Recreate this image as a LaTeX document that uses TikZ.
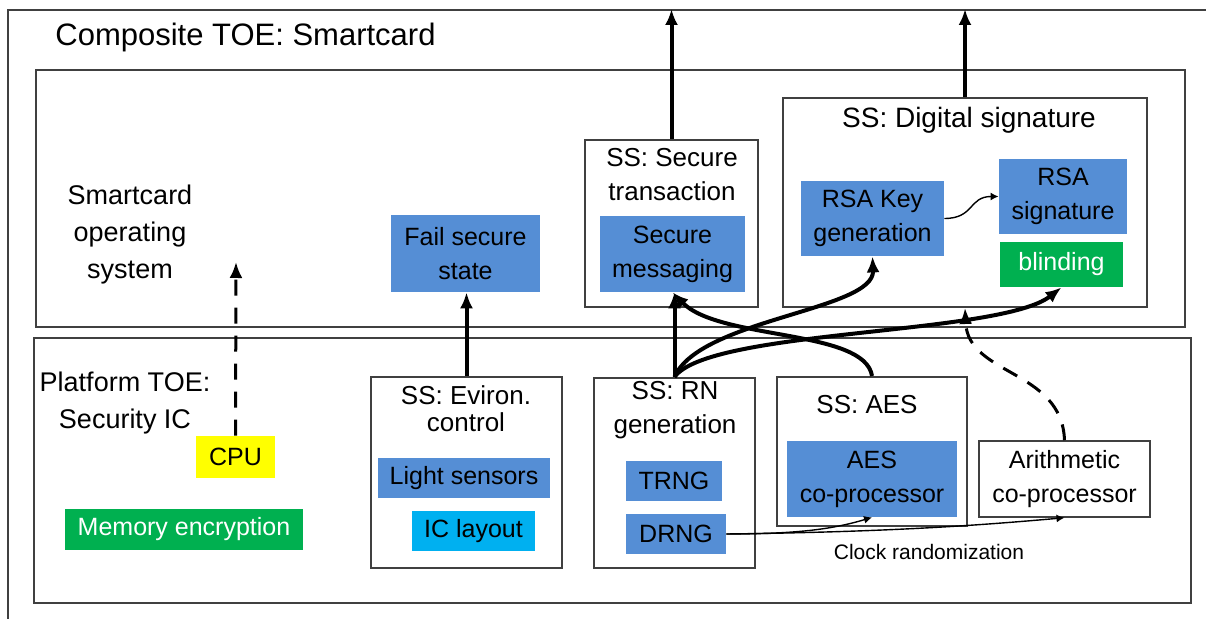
\documentclass[tikz,border=0pt]{standalone}
\usepackage{fontspec}
\setmainfont{Liberation Sans}
\usetikzlibrary{arrows.meta}
\definecolor{partblue}{RGB}{85,142,213}
\definecolor{partgreen}{RGB}{0,176,80}
\definecolor{partcyan}{RGB}{0,176,240}
\definecolor{partyellow}{RGB}{255,255,0}
\definecolor{linegray}{RGB}{64,64,64}
\newcommand{\partfont}{\fontsize{12.5}{17}\selectfont}
\newcommand{\headfont}{\fontsize{13.5}{18.5}\selectfont}
\begin{document}
\begin{tikzpicture}[x=0.5pt,y=-0.5pt,>={Latex[length=8pt,width=6.5pt]},
        ssbox/.style={draw=linegray,line width=1pt,inner sep=0pt},
        sstitle/.style={inner sep=0pt,align=center,font=\fontsize{13}{17}\selectfont},
        freetext/.style={inner sep=0pt,align=center,font=\headfont},
        bluepart/.style={fill=partblue,inner sep=0pt,align=center,font=\partfont},
        greenpart/.style={fill=partgreen,text=white,inner sep=0pt,align=center,font=\partfont},
        bigarrow/.style={->,line width=2pt},
        dasharrow/.style={->,line width=1.5pt,dash pattern=on 8pt off 6pt},
        thinarrow/.style={-{Latex[length=4pt,width=4pt]},line width=0.7pt}]
        \useasboundingbox (0,0) rectangle (1206,619);

        % outer frames
        \node[ssbox,minimum width=616pt,minimum height=320pt] (composite) at (624,330) {};
        \node[freetext,anchor=west,font=\fontsize{15.5}{18}\selectfont] (title) at (55,37) {Composite TOE: Smartcard};
        \node[ssbox,minimum width=574.5pt,minimum height=128.5pt] (os) at (610.5,198.5) {};
        \node[ssbox,minimum width=578.5pt,minimum height=132.5pt] (platform) at (612.5,470.5) {};
        \node[freetext] (oslabel) at (130,235) {Smartcard\\operating\\system};
        \node[freetext] (pflabel) at (125,403) {Platform TOE:\\Security IC};

        % platform parts
        \node[fill=partyellow,inner sep=0pt,font=\partfont,minimum width=39.5pt,minimum height=21pt] (cpu) at (235.5,457) {CPU};
        \node[greenpart,minimum width=119pt,minimum height=20.5pt] (memenc) at (184,529.5) {Memory encryption};
        \coordinate (osentry) at (236,262);

        \node[ssbox,minimum width=95.5pt,minimum height=95.5pt] (environ) at (466.5,472.5) {};
        \node[sstitle,font=\fontsize{13}{13.5}\selectfont] (environtitle) at (466,409) {SS: Eviron.\\control};
        \node[bluepart,minimum width=86pt,minimum height=20pt] (light) at (464,478) {Light sensors};
        \node[fill=partcyan,inner sep=0pt,font=\partfont,minimum width=61.5pt,minimum height=20pt] (iclayout) at (473.5,531) {IC layout};

        \node[ssbox,minimum width=80.5pt,minimum height=95pt] (rn) at (674.5,473) {};
        \node[sstitle] (rntitle) at (675,410) {SS: RN\\generation};
        \node[bluepart,minimum width=48pt,minimum height=20pt] (trng) at (674,481) {TRNG};
        \node[bluepart,minimum width=50pt,minimum height=20pt] (drng) at (676,534) {DRNG};

        \node[ssbox,minimum width=95pt,minimum height=74.5pt] (aes) at (872,451.5) {};
        \node[sstitle] (aestitle) at (867,405) {SS: AES};
        \node[bluepart,minimum width=85pt,minimum height=38pt] (aescop) at (872,479) {AES\\co-processor};
        \node[ssbox,line width=0.75pt,align=center,font=\partfont,minimum width=85.5pt,minimum height=38pt] (arith) at (1064.5,479) {Arithmetic\\co-processor};
        \node[inner sep=0pt,font=\fontsize{10.5}{12}\selectfont] (clock) at (929,552) {Clock randomization};

        % operating system parts
        \node[bluepart,minimum width=74.5pt,minimum height=38.5pt] (failsecure) at (465.5,253.5) {Fail secure\\state};

        \node[ssbox,minimum width=86.5pt,minimum height=83.5pt] (sectrans) at (671.5,223.5) {};
        \node[sstitle] (sectranstitle) at (672,175) {SS: Secure\\transaction};
        \node[bluepart,minimum width=72.5pt,minimum height=38pt] (msg) at (672.5,254) {Secure\\messaging};

        \node[ssbox,minimum width=182pt,minimum height=104.5pt] (digsig) at (965,202.5) {};
        \node[sstitle,font=\fontsize{14}{17}\selectfont] (digsigtitle) at (969,120) {SS: Digital signature};
        \node[bluepart,minimum width=71.5pt,minimum height=37.5pt] (rsakey) at (872.5,218.5) {RSA Key\\generation};
        \node[bluepart,minimum width=64pt,minimum height=37.5pt] (rsasig) at (1063,196.5) {RSA\\signature};
        \node[greenpart,minimum width=61.5pt,minimum height=22.5pt] (blinding) at (1061.5,264.5) {blinding};

        % connectors
        \draw[bigarrow] (sectrans.north) -- (sectrans.north |- composite.north);
        \draw[bigarrow] (digsig.north) -- (digsig.north |- composite.north);
        \draw[dasharrow] (cpu.north) -- (osentry);
        \draw[bigarrow] (environ.north) -- (environ.north |- failsecure.south);
        \draw[bigarrow] (rn.north) -- (rn.north |- msg.south);
        \draw[bigarrow] (rn.north) .. controls +(25,-58) and +(2,54) .. (rsakey.south);
        \draw[bigarrow] (rn.north) .. controls +(35,-48) and +(-61.5,48) .. (blinding.south);
        \draw[bigarrow] (aes.north) .. controls +(-7,-47) and +(47,48) .. (msg.south);
        \draw[dasharrow] (arith.north) .. controls +(-2.5,-71) and +(3,68) .. (digsig.south);
        \draw[thinarrow] (drng.east) .. controls +(70,0) and +(-40,12) .. (aescop.south);
        \draw[thinarrow] (drng.east) .. controls +(160,-2) and +(-90,8) .. (arith.south);
        \draw[thinarrow] (rsakey.east) .. controls +(30,0) and +(-30,0) .. (rsasig.west);
\end{tikzpicture}
\end{document}
